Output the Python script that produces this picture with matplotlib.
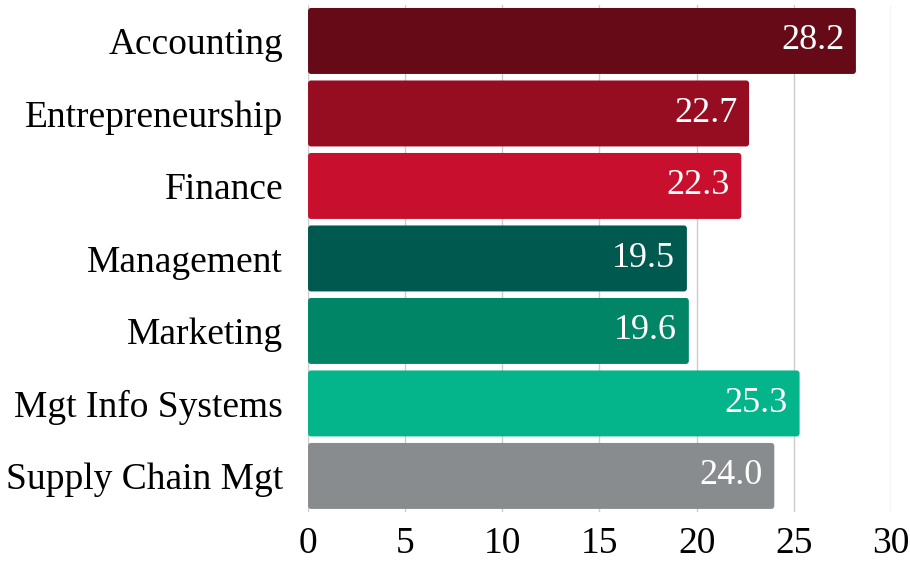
import matplotlib.pyplot as plt
from matplotlib.patches import FancyBboxPatch

plt.rcParams['font.family'] = ['Liberation Serif', 'DejaVu Serif']

majors = ['Accounting', 'Entrepreneurship', 'Finance', 'Management',
          'Marketing', 'Mgt Info Systems', 'Supply Chain Mgt']
values = [28.2, 22.7, 22.3, 19.5, 19.6, 25.3, 24.0]
colors = ['#660a18', '#960d22', '#c8102e', '#00594f',
          '#008566', '#04b48a', '#898c8e']
xticks = [0, 5, 10, 15, 20, 25, 30]

fig = plt.figure(figsize=(9.1, 5.61), dpi=100)
ax = fig.add_axes([0.3385, 0.087, 0.6405, 0.9046])

pos = list(range(len(majors)))
bars = ax.barh(pos, values, height=0.91, color=colors, zorder=2)
# swap plain bars for slightly rounded ones
for b, c in zip(bars, colors):
    b.set_visible(False)
    ax.add_patch(FancyBboxPatch((b.get_x(), b.get_y()), b.get_width(), b.get_height(),
                                boxstyle='round,pad=0,rounding_size=0.15',
                                mutation_aspect=0.28, facecolor=c, edgecolor='none', zorder=2))
for b, v in zip(bars, values):
    ax.text(v - 0.6, b.get_y() + b.get_height() / 2, f'{v:.1f}',
            ha='right', va='center', color='white', fontsize=26, zorder=3)

ax.set_yticks(pos)
ax.set_yticklabels(majors, fontsize=27)
ax.set_ylim(len(majors) - 0.5, -0.5)
ax.set_xlim(0, 30)
ax.set_xticks(xticks)
ax.set_xticklabels([str(t) for t in xticks], fontsize=27)
ax.tick_params(axis='y', length=0, pad=18)
ax.tick_params(axis='x', length=0, pad=10)
ax.grid(axis='x', color='#cccccc', linewidth=1, zorder=0)
for s in ax.spines.values():
    s.set_visible(False)

fig.savefig('out.png', dpi=100)
